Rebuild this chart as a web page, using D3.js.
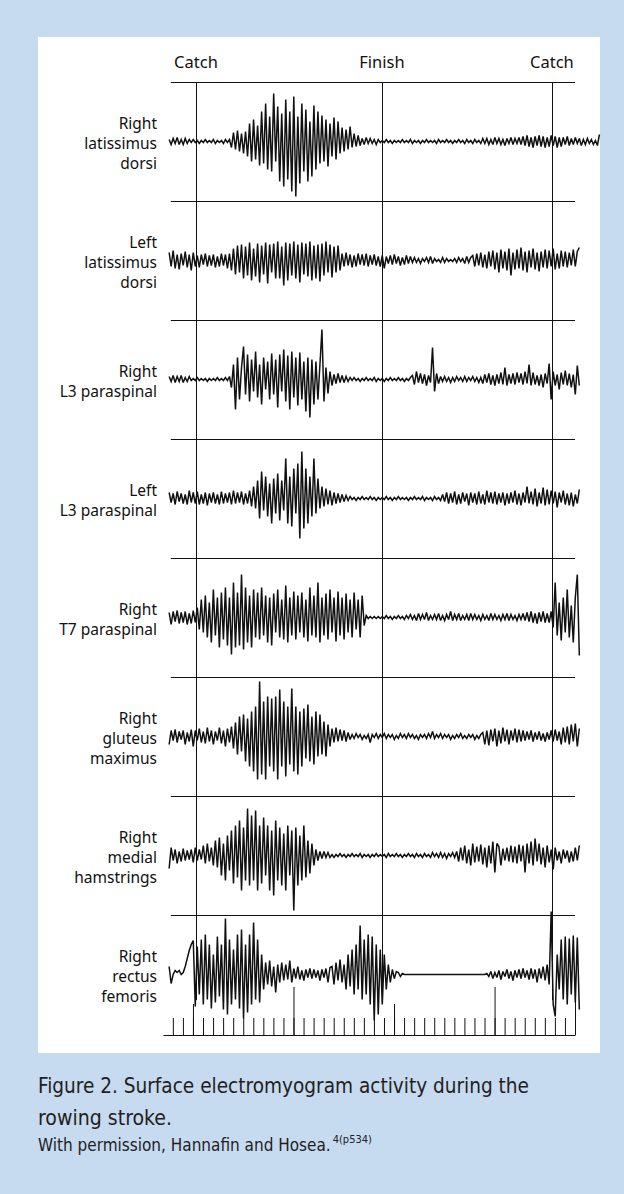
<!DOCTYPE html>
<html>
<head>
<meta charset="utf-8">
<script src="https://cdn.jsdelivr.net/npm/d3@7"></script>
<style>
  body { margin: 0; background: #c6daf0; }
  svg { display: block; }
</style>
</head>
<body>
<div id="chart"></div>
<script>
// muscle labels, one row per trace
const muscles = [
  ["Right", "latissimus", "dorsi"],
  ["Left", "latissimus", "dorsi"],
  ["Right", "L3 paraspinal"],
  ["Left", "L3 paraspinal"],
  ["Right", "T7 paraspinal"],
  ["Right", "gluteus", "maximus"],
  ["Right", "medial", "hamstrings"],
  ["Right", "rectus", "femoris"]
];

// stroke phase markers (time in tick units)
const phaseLabels = ["Catch", "Finish", "Catch"];
const phaseTimes = [0.3, 18.8, 35.7];

// time ticks along the bottom
const tickValues = d3.range(-2, 38);
const majorTicksShort = [0, 20];
const majorTicksLong = [10, 30];

// EMG samples: one value every 0.2 tick, starting at t = -2.37
const sampleStart = -2.37;
const sampleStep = 0.2;

const rightLatDorsi = [
  2,-3,3,-2,4,-3,2,-3,3,-2,2,
  -1,2,-1,1,-2,1,-1,2,-1,1,-1,2,-2,1,-1,1,-2,2,-1,2,
  -6,9,-8,11,-10,8,-12,10,
  -15,18,-20,22,-18,16,-24,
  30,-22,38,-28,25,-30,48,-20,
  35,-40,28,-45,42,-38,30,-50,45,-55,25,-42,
  38,-30,32,-40,20,-35,36,-28,30,-22,
  26,-20,22,-25,18,-15,24,-18,20,-12,
  14,-10,12,-8,15,-6,8,-5,6,
  -4,3,-3,4,-2,3,-2,2,-3,2,-1,
  1,-1,2,-1,1,-2,1,-1,1,-1,2,-1,1,-1,2,-2,1,-1,1,-2,1,-1,2,-1,1,
  -1,1,-2,2,-1,1,-1,2,-1,1,-2,1,-1,2,-1,1,-2,2,-1,1,-2,2,-1,1,-2,
  3,-2,3,-3,2,-3,4,-2,3,-3,2,-4,3,-2,4,-3,3,-2,4,-3,
  5,-4,6,-5,4,-6,5,-4,6,-5,5,-6,4,-5,6,-4,5,-6,4,-5,
  4,-3,5,-4,3,-3,4,-2,3,-4,2,-3,3,-2,2,-3,1,-4,7
];

const leftLatDorsi = [
  8,-6,10,-8,6,-9,7,-5,9,-7,6,-10,8,-6,
  5,-7,6,-4,7,-6,5,-5,6,-7,4,-6,7,-5,6,-8,7,
  -10,12,-14,15,-12,16,-18,14,-15,18,-20,12,-16,17,-22,15,-14,18,-23,16,
  -12,17,-18,19,-18,14,-25,18,-20,17,-15,19,-18,16,-22,18,-14,17,-16,19,
  -20,15,-18,16,-21,17,-15,19,-12,16,-17,14,-12,15,-10,
  7,-6,8,-5,6,-7,5,-6,7,-4,6,-5,7,-6,5,-4,6,-5,4,-6,
  5,-8,4,-3,5,-4,6,-3,4,-5,3,-4,5,-3,4,-2,3,-2,2,-3,
  2,-1,3,-2,4,-3,2,-1,1,-2,3,-2,2,-1,1,-1,2,-2,3,-1,2,-3,4,-2,3,
  5,-6,7,-5,8,-7,6,-8,9,-6,10,-9,8,-12,11,-8,9,-10,12,-15,
  8,-9,11,-8,13,-10,9,-12,10,-7,12,-9,8,-11,9,-7,11,-8,10,-6,
  12,-9,7,-8,10,-6,9,-7,8,-5,11,-6,9,13
];

const rightL3 = [
  3,-2,4,-3,3,-2,4,-3,2,-2,3,
  -1,1,-1,2,-1,1,-1,1,-2,1,-1,1,-1,2,-1,1,-1,2,-1,3,
  -8,15,-30,22,-20,12,33,-15,25,-22,20,-12,28,-18,15,-25,22,-10,18,-20,
  26,-15,20,-28,25,-12,30,-22,24,-30,28,-18,22,-26,27,-20,18,-32,22,-38,
  20,-25,18,-20,15,50,-22,12,-14,8,
  -6,5,-4,6,-3,4,-3,3,-2,2,
  -1,2,-1,1,-2,1,-1,2,-1,1,-1,2,-2,1,-1,1,-2,1,-1,2,-1,1,-1,2,-1,1,-2,1,-1,2,
  4,-5,8,-3,6,-4,5,-6,4,-3,32,-12,6,-4,3,
  -2,3,-2,2,-3,2,-2,3,-1,2,-2,3,-2,2,-1,3,-2,2,-3,2,
  -4,5,-3,6,-5,4,-6,5,-4,7,-5,12,-6,5,-4,6,-5,7,-3,6,
  -5,8,-4,15,-6,7,-5,4,-6,5,-8,6,-4,16,-20,8,-6,5,-10,7,
  -5,9,-6,6,-8,5,-15,14,-6
];

const leftL3 = [
  6,-4,5,-6,7,-3,5,-5,4,-6,8,-4,6,-5,7,-6,4,-5,6,-7,
  5,-4,6,-5,4,-6,7,-5,5,-4,6,-6,8,-5,6,-4,7,-6,5,-5,8,
  -8,12,-10,18,-20,27,-12,22,-18,15,-25,20,-15,25,-22,18,-12,40,-25,22,
  -28,30,-15,35,-40,47,-30,30,-25,22,-18,40,-15,20,-10,
  12,-8,10,-6,8,-7,6,-5,5,-4,4,-3,3,-2,2,
  -1,1,-2,1,-1,2,-1,1,-1,2,-1,1,-2,1,-1,1,-1,2,-1,1,-2,1,-1,2,-1,
  1,-1,1,-2,1,-1,2,-1,1,-1,2,-2,1,-1,1,-2,2,-1,1,-2,
  4,-3,6,-5,5,-4,7,-6,4,-5,6,-3,5,-7,6,-4,5,-6,7,-5,
  4,-6,8,-4,6,-5,7,-6,5,-4,6,-7,5,-5,6,-4,8,-6,5,-7,
  6,-4,12,-5,7,-6,10,-8,6,-5,11,-7,9,-6,8,-5,7,-9,6,-4,
  8,-6,5,-7,6,-8,4,-5,9
];

const rightT7 = [
  5,-7,6,-4,7,-6,5,-5,6,-7,4,-6,7,-5,
  10,-12,18,-15,22,-20,15,-25,28,-18,
  20,-30,25,-22,30,-28,20,-37,35,-30,
  25,-28,43,-32,30,-25,22,-30,28,-20,
  25,-22,30,-18,22,-25,20,-28,24,-15,
  28,-20,18,-22,32,-25,20,-18,26,-22,
  22,-15,25,-20,18,-24,30,-18,22,-20,
  35,-25,20,-18,24,-22,28,-15,20,-24,
  26,-18,20,-22,24,-15,18,-20,25,-12,
  18,-20,22,-8,
  2,-1,1,-1,1,-1,1,-1,1,
  -1,2,-1,1,-2,1,-1,2,-1,1,-2,2,-1,3,-2,2,-3,4,-2,3,
  -2,5,-3,2,-2,3,-2,4,-3,2,-3,3,-2,6,-3,3,-2,4,-3,2,
  -2,3,-3,4,-2,3,-2,2,-3,3,-2,2,-3,4,-2,3,-2,2,-3,3,
  -2,4,-3,3,-2,2,-3,3,-2,
  4,-3,5,-4,6,-5,4,-6,5,-4,6,-5,4,-5,6,
  -10,35,-18,15,-23,20,-15,28,-20,12,-25,20,43,-38
];

const rightGluteus = [
  -8,6,-4,7,-6,5,-3,6,-8,4,-5,7,-10,6,-4,8,-6,5,-7,9,
  -5,6,-8,5,-4,9,-7,6,-10,8,-6,
  10,-12,14,-18,20,-15,22,-25,18,-30,
  25,-35,30,-43,55,-38,35,-43,40,-30,
  38,-35,40,-43,47,-30,35,-40,30,-28,
  48,-35,30,-38,25,-30,28,-22,32,-25,
  20,-28,25,-20,22,-18,15,-20,12,-10,
  8,-6,9,-5,7,-4,6,-5,4,-3,
  2,-2,3,-1,2,-3,1,-2,2,-6,2,-1,3,-2,2,-1,3,-2,2,-1,
  2,-3,1,-2,3,-1,2,-2,3,-1,2,-2,1,-3,2,-1,2,-2,3,-1,
  5,-2,2,-1,3,-2,2,-1,2,-3,1,-2,2,-1,3,-2,1,-2,2,-1,
  2,-3,1,-2,2,
  4,-8,6,-9,7,-5,8,-10,6,-7,9,-5,7,-8,6,-4,8,-6,7,-5,
  6,-4,5,-3,6,-5,4,-3,5,-4,3,-5,4,-3,6,-5,7,-4,5,-8,
  9,-6,10,-8,12,-5,13,-10,8
];

const rightHamstrings = [
  -13,8,-5,6,-8,4,-6,7,-5,5,-4,6,-7,8,-5,6,-4,10,-8,12,-6,8,-10,
  15,-12,18,-20,12,-25,20,-15,25,-28,
  30,-22,35,-35,28,-25,47,-30,40,-25,
  45,-35,30,-28,38,-20,30,-35,25,-40,
  35,-25,28,-30,22,-35,30,-20,25,-55,
  28,-30,20,-25,30,-22,15,-18,12,-10,6,
  -5,4,-3,4,-2,3,-2,
  1,-2,1,-1,2,-1,1,-2,1,-1,2,-1,1,-1,2,-2,1,-1,1,-2,
  1,-1,2,-1,1,-1,1,-2,2,-1,1,-1,2,-1,1,-2,1,-1,2,-1,
  1,-2,2,-1,1,-2,2,-1,1,-2,3,-1,2,-2,3,-2,2,-3,2,-1,
  3,-2,4,
  -6,8,-5,10,-8,6,-10,12,-7,9,-6,11,-9,8,-12,10,-8,14,-17,12,
  9,-10,7,-5,8,-6,10,-7,9,-8,11,-6,10,-17,12,-8,14,-10,17,-6,
  12,-9,8,-12,10,-7,6,-14,8,-5,4,-8,6,-3,5,-7,4,-6,8,-5,
  10
];

const rightRectus = [
  8,-9,0,4,2,4,0,2,8,16,24,30,34,
  -32,28,-20,35,-30,40,-25,30,-34,20,
  -28,38,-22,30,-35,56,-40,35,-30,25,
  -25,40,-34,45,-44,30,-38,40,-30,52,-25,35,
  -28,20,
  -15,12,-10,14,-12,8,-18,10,-8,12,-6,10,-5,14,-8,6,-4,8,-5,4,
  -6,5,-3,6,-4,5,-3,4,-6,5,-3,6,-8,7,
  8,-10,12,-6,15,-8,10,-15,20,-12,
  25,-20,30,-15,49,-25,35,-20,40,-30,38,-46,30,
  -40,25,-30,20,-15,10,-8,5,-4,3,
  2,-2,1,0,0,0,0,0,0,0,0,0,0,0,0,0,0,0,0,0,0,0,
  0,0,0,0,0,0,0,0,0,0,0,0,0,0,0,0,0,0,0,0,0,0,
  1,-2,3,-4,2,-3,4,-5,3,-2,5,-4,3,-6,4,-3,5,-4,6,-3,
  4,-5,6,-4,5,-8,6,-4,8,-6,10,
  -10,63,-30,-42,20,-15,35,-25,38,-30,36,-20,39,-28,37,-35
];

const traces = [rightLatDorsi, leftLatDorsi, rightL3, leftL3, rightT7, rightGluteus, rightHamstrings, rightRectus];

const captionLines = [
  "Figure 2. Surface electromyogram activity during the",
  "rowing stroke."
];
const creditText = "With permission, Hannafin and Hosea.";
const creditRef = "4(p534)";

const width = 624;
const height = 1194;

const svg = d3.select("#chart")
  .append("svg")
  .attr("width", width)
  .attr("height", height);

// white figure panel
svg.append("rect")
  .attr("x", 38)
  .attr("y", 37)
  .attr("width", 562)
  .attr("height", 1016)
  .attr("fill", "#ffffff");

const x = d3.scaleLinear().domain([-2.98, 38]).range([163, 575]);
const row = d3.scaleBand().domain(d3.range(muscles.length)).range([82, 1034]);
const bandH = row.bandwidth();
const amp = d3.scaleLinear().domain([-60, 60]).range([bandH / 2 + 60, bandH / 2 - 60]);

const ink = "#111";
const labelFont = "'Noto Sans', 'Open Sans', sans-serif";

// phase labels
svg.append("g")
  .selectAll("text")
  .data(phaseLabels)
  .join("text")
  .attr("x", (d, i) => x(phaseTimes[i]))
  .attr("y", 68)
  .attr("text-anchor", "middle")
  .attr("font-family", labelFont)
  .attr("font-size", 16.5)
  .attr("fill", ink)
  .text((d) => d);

// row separators
svg.append("g")
  .selectAll("line")
  .data(d3.range(muscles.length))
  .join("line")
  .attr("x1", x(-2.2))
  .attr("x2", x(38))
  .attr("y1", (d) => row(d) + 0.5)
  .attr("y2", (d) => row(d) + 0.5)
  .attr("stroke", ink)
  .attr("stroke-width", 1);

// phase verticals
svg.append("g")
  .selectAll("line")
  .data(phaseTimes)
  .join("line")
  .attr("x1", (d) => Math.round(x(d)) + 0.5)
  .attr("x2", (d) => Math.round(x(d)) + 0.5)
  .attr("y1", 82)
  .attr("y2", 1000)
  .attr("stroke", ink)
  .attr("stroke-width", 1);

// traces
const line = d3.line()
  .x((d, i) => x(sampleStart + i * sampleStep))
  .y((d) => amp(d));

const rows = svg.append("g")
  .selectAll("g")
  .data(traces)
  .join("g")
  .attr("transform", (d, i) => `translate(0,${row(i)})`);

rows.append("path")
  .attr("d", (d) => line(d))
  .attr("fill", "none")
  .attr("stroke", ink)
  .attr("stroke-width", 1.5)
  .attr("stroke-linejoin", "miter")
  .attr("stroke-miterlimit", 3);

// muscle labels
rows.append("text")
  .attr("text-anchor", "end")
  .attr("font-family", labelFont)
  .attr("font-size", 15.5)
  .attr("fill", ink)
  .each(function (d, i) {
    const lines = muscles[i];
    const t = d3.select(this);
    const y0 = bandH / 2 + 7 - (lines.length - 1) * 10;
    lines.forEach((s, k) => {
      t.append("tspan").attr("x", 157).attr("y", y0 + k * 20).text(s);
    });
  });

// time tick row
const axisY = 1035;
svg.append("g")
  .attr("transform", `translate(0,${axisY})`)
  .call(d3.axisTop(x).tickValues(tickValues).tickSize(17).tickSizeOuter(0).tickFormat(""))
  .call((g) => g.selectAll("line,path").attr("stroke", ink));
svg.append("g")
  .attr("transform", `translate(0,${axisY})`)
  .call(d3.axisTop(x).tickValues(majorTicksShort).tickSize(31).tickFormat(""))
  .call((g) => g.select(".domain").remove())
  .call((g) => g.selectAll("line").attr("stroke", ink));
svg.append("g")
  .attr("transform", `translate(0,${axisY})`)
  .call(d3.axisTop(x).tickValues(majorTicksLong.concat([38])).tickSize(48).tickFormat(""))
  .call((g) => g.select(".domain").remove())
  .call((g) => g.selectAll("line").attr("stroke", ink));

// caption
const capFont = "'Liberation Sans Narrow', 'DejaVu Sans Condensed', 'Roboto', sans-serif";
const cap = svg.append("g").attr("fill", "#231f20").attr("font-family", capFont);
cap.append("text")
  .attr("x", 38).attr("y", 1093)
  .attr("font-size", 22)
  .attr("textLength", 491).attr("lengthAdjust", "spacingAndGlyphs")
  .text(captionLines[0]);
cap.append("text")
  .attr("x", 38).attr("y", 1125)
  .attr("font-size", 22)
  .attr("textLength", 134).attr("lengthAdjust", "spacingAndGlyphs")
  .text(captionLines[1]);
const credit = cap.append("text")
  .attr("x", 38).attr("y", 1151)
  .attr("font-size", 17);
credit.append("tspan").text(creditText);
credit.append("tspan")
  .attr("dx", 2)
  .attr("dy", -8)
  .attr("font-size", 11)
  .text(creditRef);
</script>
</body>
</html>
